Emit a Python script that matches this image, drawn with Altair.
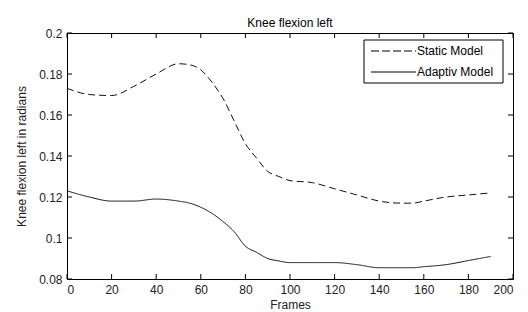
import altair as alt
import pandas as pd

frames = [0, 10, 20, 30, 40, 50, 55, 60, 65, 70, 75, 80, 85, 90, 95, 100, 110, 120, 130, 140, 150, 155, 160, 170, 180, 190]
static = [0.173, 0.170, 0.1695, 0.174, 0.180, 0.185, 0.1845, 0.182, 0.176, 0.168, 0.157, 0.146, 0.139, 0.1325, 0.130, 0.128, 0.127, 0.124, 0.121, 0.118, 0.117, 0.117, 0.118, 0.120, 0.121, 0.122]
adaptive = [0.123, 0.120, 0.118, 0.118, 0.119, 0.118, 0.117, 0.115, 0.112, 0.108, 0.103, 0.096, 0.093, 0.090, 0.0888, 0.088, 0.088, 0.088, 0.087, 0.0855, 0.0855, 0.0855, 0.086, 0.087, 0.089, 0.091]
series_names = ["Static Model", "Adaptiv Model"]
x_ticks = [0, 20, 40, 60, 80, 100, 120, 140, 160, 180, 200]
y_ticks = [0.08, 0.1, 0.12, 0.14, 0.16, 0.18, 0.2]

W, H = 446, 246
FONT = "Liberation Sans"
dash_range = [[7, 4], [1, 0]]

df = pd.DataFrame({
    "Frames": frames * 2,
    "value": static + adaptive,
    "series": [series_names[0]] * len(frames) + [series_names[1]] * len(frames),
})

xs = alt.Scale(domain=[0, 200], nice=False)
ys = alt.Scale(domain=[0.08, 0.2], nice=False)
dash_scale = alt.Scale(domain=series_names, range=dash_range)

lines = alt.Chart(df).mark_line(strokeWidth=1, color="#111", interpolate="monotone").encode(
    x=alt.X("Frames:Q", scale=xs, axis=alt.Axis(values=x_ticks, format="d", tickSize=0, labelPadding=5,
                                                  title="Frames", titlePadding=4, grid=False, domain=False)),
    y=alt.Y("value:Q", scale=ys, axis=alt.Axis(values=y_ticks, format="~g", tickSize=0, labelPadding=5,
                                                 title="Knee flexion left in radians", titlePadding=10,
                                                 grid=False, domain=False)),
    strokeDash=alt.StrokeDash("series:N", scale=dash_scale, legend=None),
    detail="series:N",
)

xt = pd.DataFrame({"t": x_ticks})
yt = pd.DataFrame({"t": y_ticks})

xb = alt.Chart(xt).mark_rule(color="black", strokeWidth=1).encode(
    x=alt.X("t:Q", scale=xs), y=alt.value(H), y2=alt.value(H - 5))
xtop = alt.Chart(xt).mark_rule(color="black", strokeWidth=1).encode(
    x=alt.X("t:Q", scale=xs), y=alt.value(0), y2=alt.value(5))
yl = alt.Chart(yt).mark_rule(color="black", strokeWidth=1).encode(
    y=alt.Y("t:Q", scale=ys), x=alt.value(0), x2=alt.value(5))
yr = alt.Chart(yt).mark_rule(color="black", strokeWidth=1).encode(
    y=alt.Y("t:Q", scale=ys), x=alt.value(W), x2=alt.value(W - 5))

# manual legend (MATLAB style box)
leg_box = alt.Chart(pd.DataFrame({"a": [0]})).mark_rect(fill="white", stroke="black", strokeWidth=1).encode(
    x=alt.value(297), x2=alt.value(436), y=alt.value(7), y2=alt.value(50))
leg_l1 = alt.Chart(pd.DataFrame({"series": [series_names[0]]})).mark_rule(color="black", strokeWidth=1, strokeDash=[8, 3]).encode(
    x=alt.value(304), x2=alt.value(349), y=alt.value(18))
leg_l2 = alt.Chart(pd.DataFrame({"series": [series_names[1]]})).mark_rule(color="black", strokeWidth=1).encode(
    x=alt.value(304), x2=alt.value(349), y=alt.value(39))
leg_t1 = alt.Chart(pd.DataFrame({"series": [series_names[0]]})).mark_text(
    align="left", baseline="middle", font=FONT, fontSize=12, color="black").encode(
    x=alt.value(350), y=alt.value(18), text="series:N")
leg_t2 = alt.Chart(pd.DataFrame({"series": [series_names[1]]})).mark_text(
    align="left", baseline="middle", font=FONT, fontSize=12, color="black").encode(
    x=alt.value(350), y=alt.value(39), text="series:N")

chart = alt.layer(lines, xb, xtop, yl, yr, leg_box, leg_l1, leg_l2, leg_t1, leg_t2).properties(
    width=W, height=H,
    title=alt.Title("Knee flexion left", fontSize=12, font=FONT, fontWeight="normal", color="black", offset=-3),
    autosize=alt.AutoSizeParams(type="none"),
    padding={"left": 59, "top": 25, "right": 5, "bottom": 33},
).configure(background="white").configure_view(stroke="black", strokeWidth=1).configure_axis(
    labelFont=FONT, labelFontSize=12, labelColor="#222", titleFont=FONT, titleFontSize=12,
    titleFontWeight="normal", titleColor="#222"
)

chart.save("out.html", embed_options={"renderer": "svg", "actions": False})
